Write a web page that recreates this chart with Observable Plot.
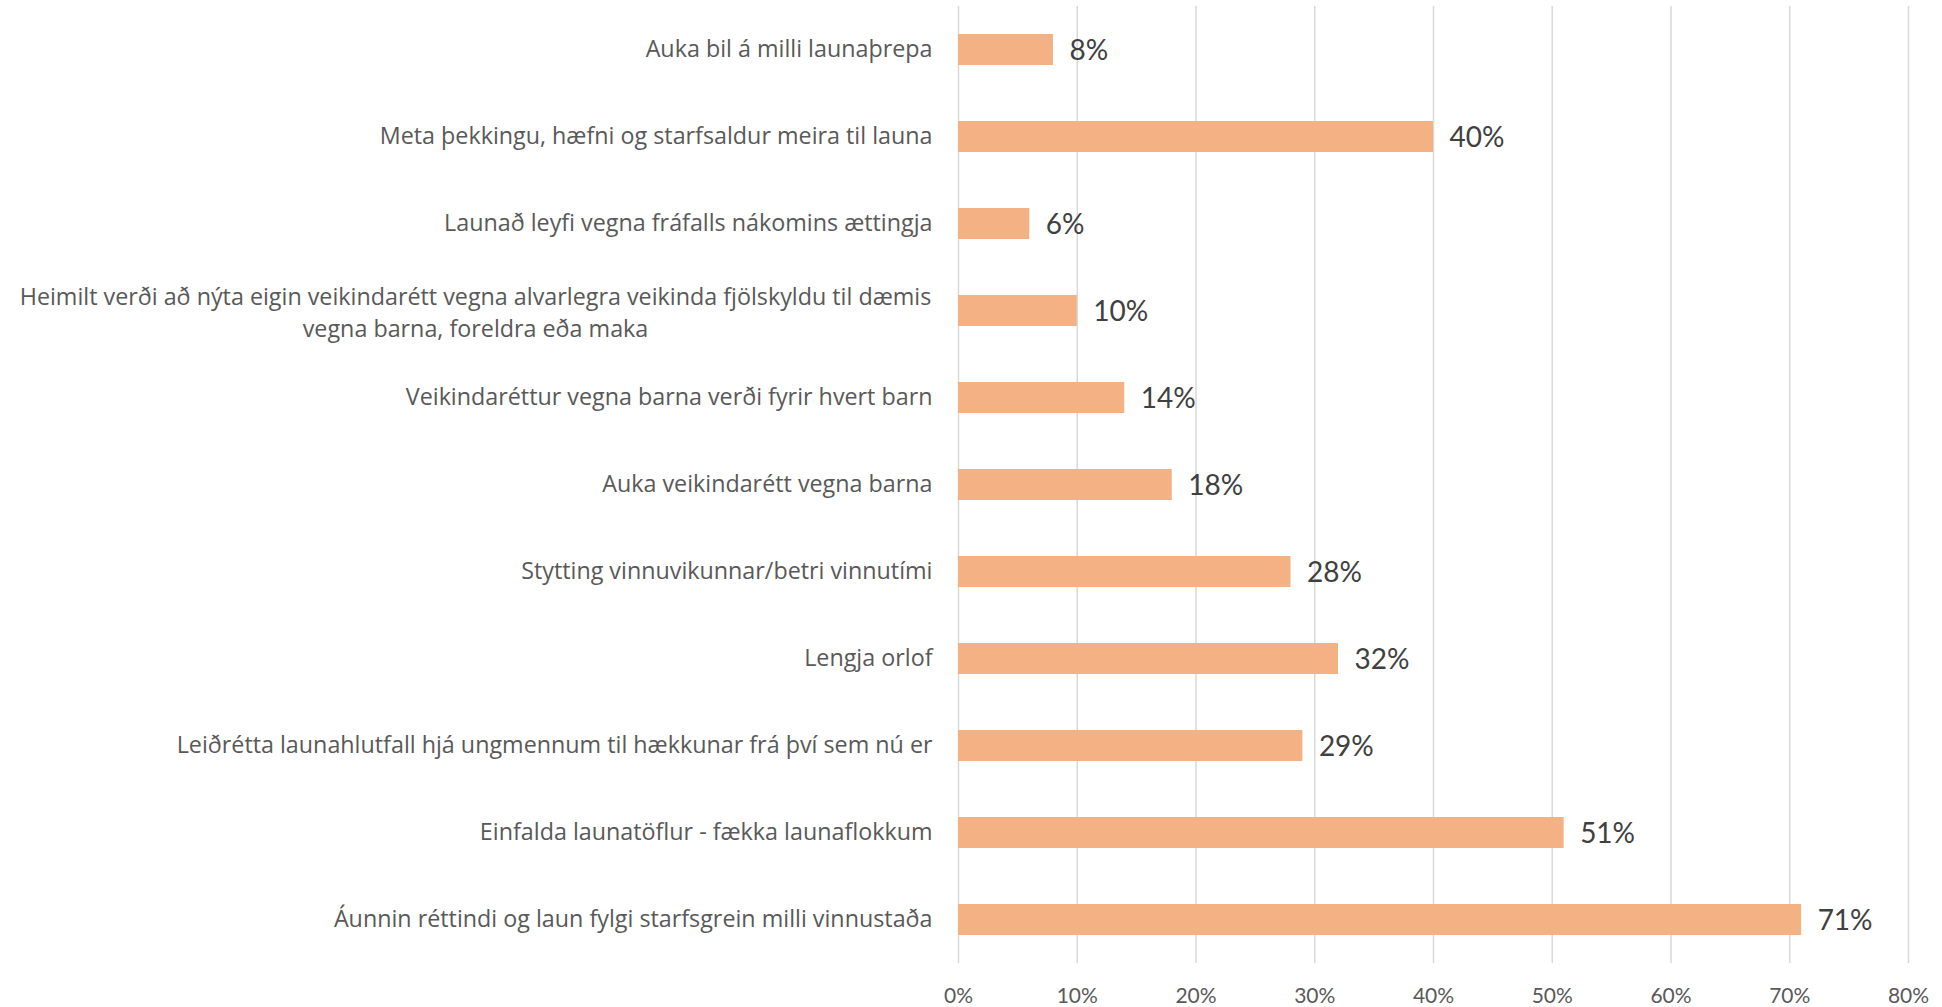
<!DOCTYPE html>
<html>
<head>
<meta charset="utf-8">
<script src="https://cdn.jsdelivr.net/npm/d3@7"></script>
<script src="https://cdn.jsdelivr.net/npm/@observablehq/plot@0.6"></script>
<style>
  html, body { margin: 0; padding: 0; background: #fff; }
  #chart svg { display: block; }
</style>
</head>
<body>
<div id="chart"></div>
<script>
const categories = [
  "Auka bil á milli launaþrepa",
  "Meta þekkingu, hæfni og starfsaldur meira til launa",
  "Launað leyfi vegna fráfalls nákomins ættingja",
  "Heimilt verði að nýta eigin veikindarétt vegna alvarlegra veikinda fjölskyldu til dæmis\nvegna barna, foreldra eða maka",
  "Veikindaréttur vegna barna verði fyrir hvert barn",
  "Auka veikindarétt vegna barna",
  "Stytting vinnuvikunnar/betri vinnutími",
  "Lengja orlof",
  "Leiðrétta launahlutfall hjá ungmennum til hækkunar frá því sem nú er",
  "Einfalda launatöflur - fækka launaflokkum",
  "Áunnin réttindi og laun fylgi starfsgrein milli vinnustaða"
];
const values = [8, 40, 6, 10, 14, 18, 28, 32, 29, 51, 71];
const xTicks = [0, 10, 20, 30, 40, 50, 60, 70, 80];

const data = categories.map((c, i) => ({cat: c, value: values[i]}));
const multi = data.filter(d => d.cat.includes("\n"));

const font = "Lato, 'Open Sans', sans-serif";
const catFont = "'Open Sans', Lato, sans-serif";

const chart = Plot.plot({
  width: 1942,
  height: 1007,
  marginLeft: 958,
  marginRight: 34,
  marginTop: 6,
  marginBottom: 44,
  style: {fontFamily: font, background: "#fff"},
  x: {domain: [0, 80], ticks: xTicks, label: null},
  y: {domain: categories, padding: 0, label: null},
  marks: [
    Plot.gridX(xTicks, {stroke: "#D9D9D9", strokeOpacity: 1, strokeWidth: 1.5}),
    Plot.barX(data, {x: "value", y: "cat", fill: "#F4B183", insetTop: 28, insetBottom: 28}),
    Plot.text(data, {
      x: "value", y: "cat", text: d => d.value + "%",
      textAnchor: "start", dx: 16, dy: 1, fontSize: 28, fill: "#404040"
    }),
    Plot.axisX({
      ticks: xTicks, tickSize: 0, tickPadding: 25, fontSize: 21,
      color: "#595959", tickFormat: d => d + "%", label: null
    }),
    Plot.axisY({
      tickSize: 0, tickPadding: 26, fontSize: 23.3, fontFamily: catFont, color: "#595959",
      tickFormat: d => d.includes("\n") ? "" : d, label: null
    }),
    Plot.text(multi, {
      y: "cat", text: "cat", frameAnchor: "left", dx: -483,
      textAnchor: "middle", lineAnchor: "middle", lineHeight: 1.36,
      fontSize: 23.3, fontFamily: catFont, fill: "#595959"
    })
  ]
});
document.getElementById("chart").appendChild(chart);
</script>
</body>
</html>
